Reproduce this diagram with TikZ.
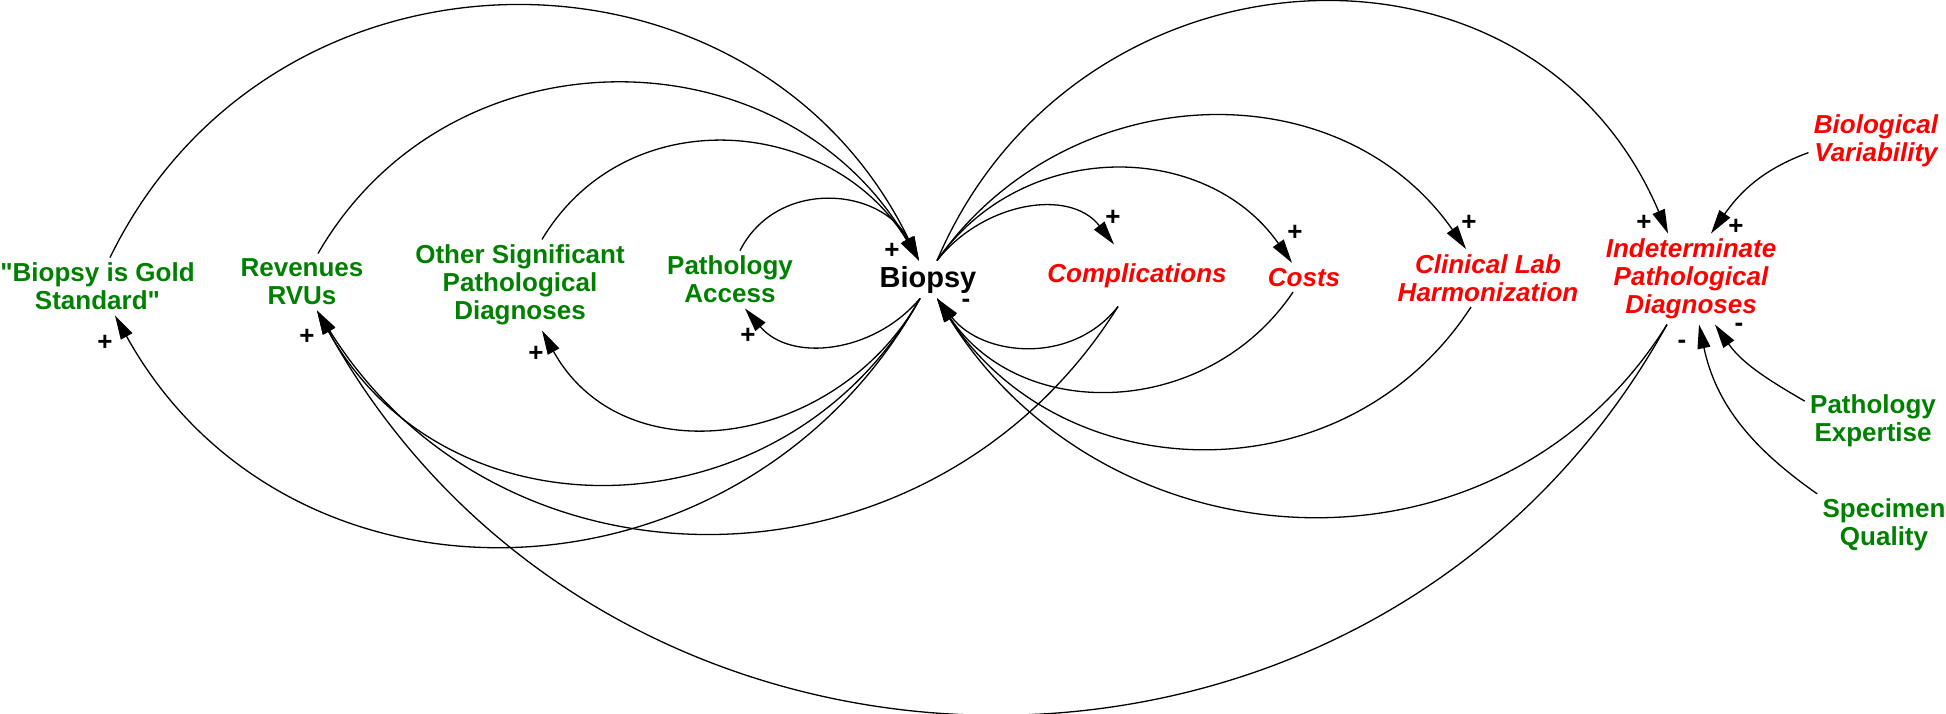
\documentclass[tikz,border=0pt]{standalone}
\usepackage{fontspec}
\setmainfont{Liberation Sans}
\usepackage{tikz}
\usetikzlibrary{calc, arrows.meta}
\definecolor{factgreen}{RGB}{0,128,0}
\newcommand{\sq}{\XeTeXglyph\XeTeXcharglyph"22\relax}
\tikzstyle{fac}=[text=factgreen, font=\fontsize{13}{14}\selectfont\bfseries, align=center, inner sep=2.5pt]
\tikzstyle{eff}=[text=red, font=\fontsize{13}{14}\selectfont\bfseries\itshape, align=center, inner sep=2.5pt]
\tikzstyle{pol}=[font=\fontsize{13}{14}\selectfont\bfseries, inner sep=0pt]
\tikzstyle{cline}=[->, line width=0.65pt]
\tikzset{>={Triangle[length=12pt, width=6.5pt]}}

\begin{document}
\begin{tikzpicture}[x=0.5pt, y=0.5pt]
\useasboundingbox (0,0) rectangle (1946,-713);
%
\node[fac] (gold) at (97.5,-286.5) {\sq Biopsy is Gold\\Standard\sq};
\node[fac] (rvu) at (302,-282) {Revenues\\RVUs};
\node[fac] (other) at (520,-285) {Other Significant\\Pathological\\Diagnoses};
\node[fac] (access) at (730,-279.5) {Pathology\\Access};
\node[font=\fontsize{14.5}{16}\selectfont\bfseries, inner sep=2.5pt] (biopsy) at (928,-279.5) {Biopsy};
\node[eff] (compl) at (1137,-276) {Complications};
\node[eff] (costs) at (1304,-277.5) {Costs};
\node[eff] (clin) at (1488,-278) {Clinical Lab\\Harmonization};
\node[eff] (indet) at (1691,-279) {Indeterminate\\Pathological\\Diagnoses};
\node[eff] (biovar) at (1876,-140.7) {Biological\\Variability};
\node[fac] (expert) at (1873,-420.7) {Pathology\\Expertise};
\node[fac] (spec) at (1884,-525) {Specimen\\Quality};
%
\draw[cline] ([xshift=6.25pt]gold.north) to[out=64, in=116, looseness=1.18] ([xshift=-4.5pt]biopsy.north);
\draw[cline] ([xshift=8pt]rvu.north) to[out=60, in=120, looseness=1.13] ([xshift=-4.5pt]biopsy.north);
\draw[cline] ([xshift=11pt]other.north) to[out=59, in=121, looseness=1.13] ([xshift=-4.5pt]biopsy.north);
\draw[cline] ([xshift=5pt]access.north) to[out=63, in=117, looseness=1.17] ([xshift=-4.5pt]biopsy.north);
%
\draw[cline] ([xshift=4.5pt]biopsy.north) to[out=52, in=128, looseness=1.05] ([xshift=-11.5pt, yshift=7pt]compl.north);
\draw[cline] ([xshift=4.5pt]biopsy.north) to[out=55, in=125, looseness=1.08] ([xshift=-6pt]costs.north);
\draw[cline] ([xshift=4.5pt]biopsy.north) to[out=55, in=125, looseness=1.08] ([xshift=-11pt]clin.north);
\draw[cline] ([xshift=4.5pt]biopsy.north) to[out=67, in=113, looseness=1.23] ([xshift=-11.5pt]indet.north);
%
\draw[cline] ([xshift=-9.5pt, yshift=-6.5pt]compl.south) to[out=232, in=308, looseness=1.05] ([xshift=4.5pt]biopsy.south);
\draw[cline] ([xshift=-5.5pt]costs.south) to[out=236, in=304, looseness=1.09] ([xshift=4.5pt]biopsy.south);
\draw[cline] ([xshift=-8.5pt]clin.south) to[out=237, in=303, looseness=1.10] ([xshift=4.5pt]biopsy.south);
\draw[cline] ([xshift=-12pt]indet.south) to[out=238, in=302, looseness=1.12] ([xshift=4.5pt]biopsy.south);
%
\draw[cline] ([xshift=-4pt]biopsy.south) to[out=230, in=310, looseness=1.04] ([xshift=7.5pt]access.south);
\draw[cline] ([xshift=-4pt]biopsy.south) to[out=241, in=299, looseness=1.15] ([xshift=11pt]other.south);
\draw[cline] ([xshift=-4pt]biopsy.south) to[out=241, in=299, looseness=1.15] ([xshift=7.5pt]rvu.south);
\draw[cline] ([xshift=-4pt]biopsy.south) to[out=241, in=299, looseness=1.15] ([xshift=8.75pt]gold.south);
\draw[cline] ([xshift=-9.5pt, yshift=-6.5pt]compl.south) to[out=238, in=302, looseness=1.12] ([xshift=7.5pt]rvu.south);
\draw[cline] ([xshift=-12pt]indet.south) to[out=241, in=299, looseness=1.14] ([xshift=7.5pt]rvu.south);
%
\draw[cline] (biovar.190) to[out=200, in=55] ([xshift=10pt]indet.north);
\draw[cline] (expert.164) to[out=150, in=305] ([xshift=12pt]indet.south);
\draw[cline] (spec.155) to[out=145, in=282] ([xshift=4pt]indet.south);
%
\foreach \nm/\px/\py/\sg in {bi-p/892/251/+, bi-m/966/303/-, ac-p/748/336/+, ot-p/536/354/+, rv-p/307/337/+, go-p/105/343/+, co-p/1113/218/+, cs-p/1295/233/+, cl-p/1469/223/+, in-p1/1644/223/+, in-p2/1736/227/+, in-m1/1739/327/-, in-m2/1682/344/-}
{
\node[pol] (\nm) at (\px,-\py) {\sg};
}
%
\end{tikzpicture}
\end{document}
